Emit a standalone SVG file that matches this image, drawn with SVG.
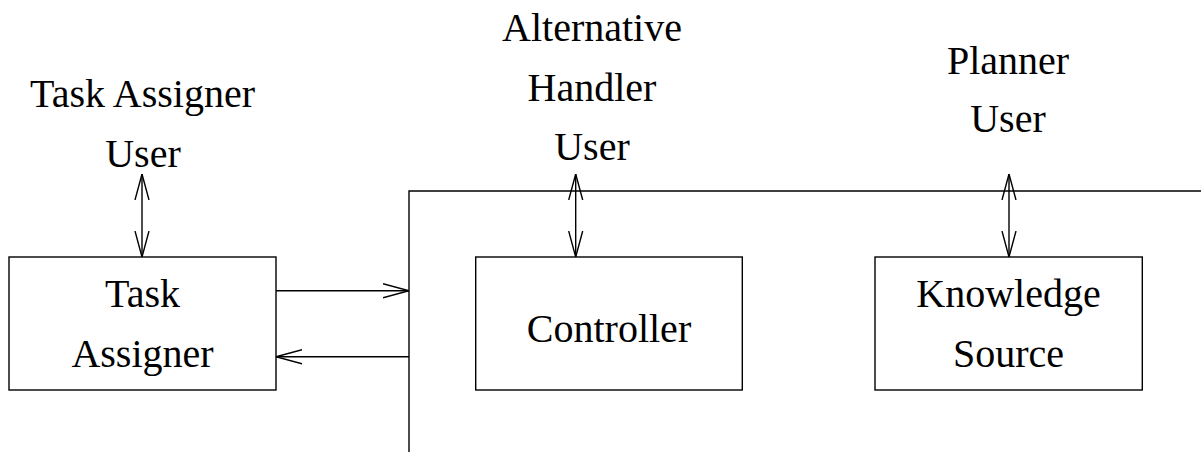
<svg xmlns="http://www.w3.org/2000/svg" width="1201" height="452" viewBox="0 0 1201 452">
<style>
text{font-family:"Liberation Serif","Times New Roman",Times,serif;font-size:40px;fill:#000;text-anchor:middle}
.box{fill:none;stroke:#000;stroke-width:1.4}
.ln{fill:none;stroke:#000;stroke-width:1.4}
</style>
<defs>
<marker id="ah" viewBox="0 0 26 16" refX="26" refY="8" markerWidth="26" markerHeight="16" markerUnits="userSpaceOnUse" orient="auto-start-reverse">
<path d="M0,1 L26,8 L0,15" fill="none" stroke="#000" stroke-width="1.4"/>
</marker>
</defs>
<rect width="1201" height="452" fill="#fff"/>
<g id="labels" font-family="Liberation Serif, serif">
<text x="142.5" y="107">Task Assigner</text>
<text x="143" y="166.5">User</text>
<text x="592" y="40.5">Alternative</text>
<text x="592" y="100.5">Handler</text>
<text x="592" y="160">User</text>
<text x="1008" y="74">Planner</text>
<text x="1008" y="132">User</text>
</g>
<g id="bus">
<path class="ln" d="M409,452 V191 H1201"/>
</g>
<g id="task-assigner">
<rect class="box" x="9" y="257" width="267" height="133"/>
<text x="142.5" y="306.5">Task</text>
<text x="142.5" y="366.5">Assigner</text>
</g>
<g id="controller">
<rect class="box" x="475.7" y="257" width="266.6" height="133"/>
<text x="609" y="341.5">Controller</text>
</g>
<g id="knowledge-source">
<rect class="box" x="875" y="257" width="267.3" height="133"/>
<text x="1008.5" y="306.5">Knowledge</text>
<text x="1008.5" y="366.5">Source</text>
</g>
<g id="connectors">
<line class="ln" x1="142" y1="174" x2="142" y2="257" marker-start="url(#ah)" marker-end="url(#ah)"/>
<line class="ln" x1="575.7" y1="174" x2="575.7" y2="257" marker-start="url(#ah)" marker-end="url(#ah)"/>
<line class="ln" x1="1009" y1="174" x2="1009" y2="257" marker-start="url(#ah)" marker-end="url(#ah)"/>
<line class="ln" x1="276" y1="290.7" x2="409" y2="290.7" marker-end="url(#ah)"/>
<line class="ln" x1="409" y1="356.7" x2="276" y2="356.7" marker-end="url(#ah)"/>
</g>
</svg>
